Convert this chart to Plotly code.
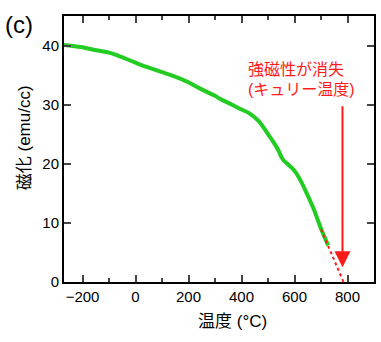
import plotly.graph_objects as go

temperature = [-270, -200, -160, -100, 0, 15, 100, 128, 200, 240, 300, 315, 350, 390, 427,
               465, 502, 520, 540, 550, 560, 575, 590, 605, 620, 640, 671, 702, 727]
magnetization = [40.1, 39.7, 39.3, 38.8, 37.1, 36.8, 35.5, 35.1, 33.8, 32.8, 31.5, 31.1, 30.3,
                 29.4, 28.6, 27.2, 24.9, 23.7, 22.2, 21.2, 20.5, 19.9, 19.3, 18.5, 17.4,
                 15.6, 12.5, 8.8, 6.2]
extrap_x = [700, 785]
extrap_y = [8.9, 0]
curie_T = 781
arrow_top = 30
arrow_tip = 2.5
xticks = [-200, 0, 200, 400, 600, 800]
yticks = [0, 10, 20, 30, 40]

FONT = "Liberation Sans, Arial, Noto Sans CJK JP, sans-serif"
GREEN = "#22cc22"
RED = "#ff1a1a"

fig = go.Figure()
fig.add_trace(go.Scatter(x=temperature, y=magnetization, mode="lines",
                         line=dict(color=GREEN, width=4, shape="spline", smoothing=0.6),
                         showlegend=False))
fig.add_trace(go.Scatter(x=extrap_x, y=extrap_y, mode="lines",
                         line=dict(color=RED, width=2, dash="dot"), showlegend=False))

fig.add_annotation(x=curie_T, y=arrow_tip, ax=curie_T, ay=arrow_top, xref="x", yref="y",
                   axref="x", ayref="y", text="", showarrow=True, arrowhead=2,
                   arrowsize=1.6, arrowwidth=2, arrowcolor=RED)
fig.add_annotation(x=416, y=35.9, xref="x", yref="y", text="強磁性が消失", showarrow=False,
                   xanchor="left", yanchor="middle", font=dict(family=FONT, size=16, color=RED))
fig.add_annotation(x=416, y=32.5, xref="x", yref="y", text="(キュリー温度)", showarrow=False,
                   xanchor="left", yanchor="middle", font=dict(family=FONT, size=16, color=RED))
fig.add_annotation(x=3, y=24, text="(c)", showarrow=False,
                   xanchor="left", yanchor="middle", font=dict(family=FONT, size=24, color="black"))
fig.add_annotation(x=234, y=321.5, text="温度 (°C)", showarrow=False,
                   xanchor="center", yanchor="middle", font=dict(family=FONT, size=17, color="black"))
fig.add_annotation(x=24, y=138, text="磁化 (emu/cc)", showarrow=False, textangle=-90,
                   xanchor="center", yanchor="middle", font=dict(family=FONT, size=17, color="black"))

# convert pixel-based annotations (last three) to paper coords
W, H = 381, 342
L, R, T, B = 64, 5, 16, 60
pw, ph = W - L - R, H - T - B
anns = list(fig.layout.annotations)
for a in anns[3:]:
    px, py = a.x, a.y
    a.xref = "paper"
    a.yref = "paper"
    a.x = (px - L) / pw
    a.y = (H - B - py) / ph
fig.layout.annotations = anns

fig.update_layout(
    width=W, height=H, margin=dict(l=L, r=R, t=T, b=B),
    plot_bgcolor="white", paper_bgcolor="white",
    font=dict(family=FONT, size=15, color="black"),
    xaxis=dict(range=[-270, 900], tickvals=xticks, ticks="inside", ticklen=7, tickwidth=1.5,
               showline=True, linecolor="black", linewidth=2, mirror="allticks",
               showgrid=False, zeroline=False,
               minor=dict(ticks="inside", ticklen=4, tickwidth=1.5, dtick=100, tick0=-100,
                          showgrid=False)),
    yaxis=dict(range=[0, 45], tickvals=yticks, ticks="inside", ticklen=7, tickwidth=1.5,
               showline=True, linecolor="black", linewidth=2, mirror="allticks",
               showgrid=False, zeroline=False),
)
fig.write_html("out.html")
